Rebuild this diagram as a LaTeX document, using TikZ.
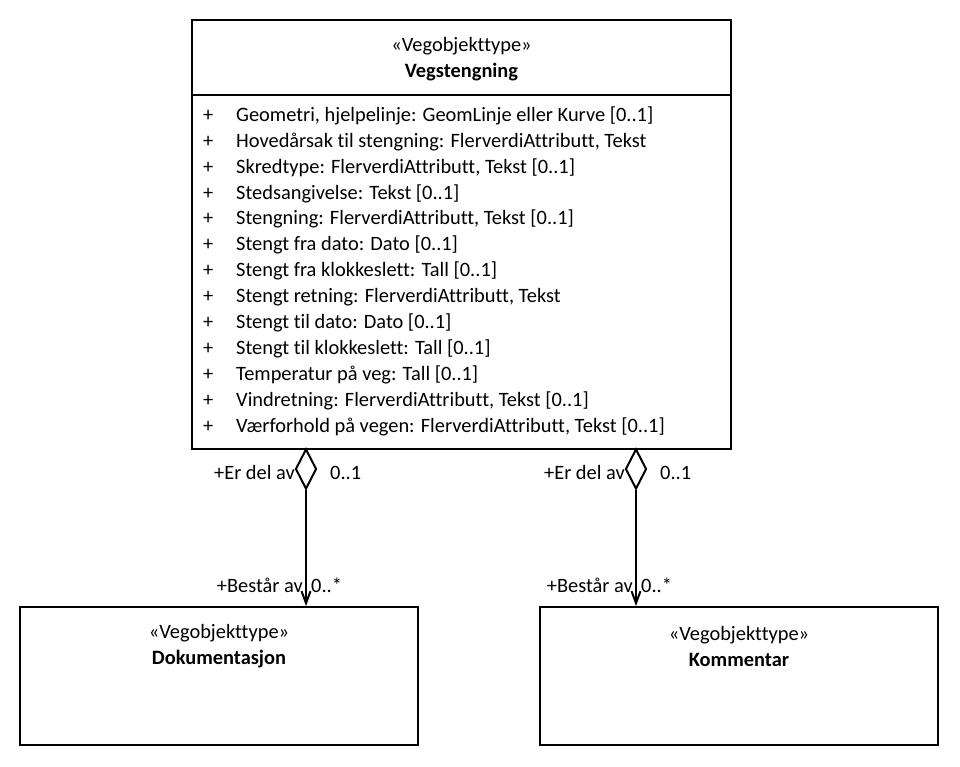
\documentclass[tikz,border=0pt]{standalone}
\usepackage{fontspec}
\setmainfont{Carlito}[Ligatures=NoCommon]
\usetikzlibrary{shapes.geometric,arrows.meta}
\begin{document}
\begin{tikzpicture}[x=1pt,y=-1pt,
font=\fontsize{20.4}{26}\selectfont,
% common options for class boxes:
klasse/.style = {draw, line width=2pt, align=center, anchor=north,
            inner sep=0},
% common options for attribute lines:
attr/.style = {anchor=west, inner sep=0},
% common options for role labels:
rolle/.style = {inner sep=0},
% common options for the aggregation diamonds:
rute/.style = {diamond, draw, line width=2pt, fill=white, anchor=north,
            minimum width=21pt, minimum height=40pt, inner sep=0}]
\useasboundingbox (0,0) rectangle (960,766);
\node[klasse,minimum width=539pt,minimum height=75pt] (V0) at (461.5,19) {};
\node[klasse,draw=none,anchor=center] (V2) at (461.5,59) {«Vegobjekttype»\\\textbf{Vegstengning}};
\node[klasse,minimum width=539pt,minimum height=354pt] (V1) at (461.5,94) {};
\node[attr] (A1) at (203,116) {\makebox[33pt][l]{+}Geometri, hjelpelinje: GeomLinje eller Kurve [0..1]};
\node[attr] (A2) at (203,142) {\makebox[33pt][l]{+}Hovedårsak til stengning: FlerverdiAttributt, Tekst};
\node[attr] (A3) at (203,168) {\makebox[33pt][l]{+}Skredtype: FlerverdiAttributt, Tekst [0..1]};
\node[attr] (A4) at (203,194) {\makebox[33pt][l]{+}Stedsangivelse: Tekst [0..1]};
\node[attr] (A5) at (203,219) {\makebox[33pt][l]{+}Stengning: FlerverdiAttributt, Tekst [0..1]};
\node[attr] (A6) at (203,245) {\makebox[33pt][l]{+}Stengt fra dato: Dato [0..1]};
\node[attr] (A7) at (203,271) {\makebox[33pt][l]{+}Stengt fra klokkeslett: Tall [0..1]};
\node[attr] (A8) at (203,297) {\makebox[33pt][l]{+}Stengt retning: FlerverdiAttributt, Tekst};
\node[attr] (A9) at (203,323) {\makebox[33pt][l]{+}Stengt til dato: Dato [0..1]};
\node[attr] (A10) at (203,349) {\makebox[33pt][l]{+}Stengt til klokkeslett: Tall [0..1]};
\node[attr] (A11) at (203,375) {\makebox[33pt][l]{+}Temperatur på veg: Tall [0..1]};
\node[attr] (A12) at (203,401) {\makebox[33pt][l]{+}Vindretning: FlerverdiAttributt, Tekst [0..1]};
\node[attr] (A13) at (203,427) {\makebox[33pt][l]{+}Værforhold på vegen: FlerverdiAttributt, Tekst [0..1]};
\node[klasse,minimum width=398pt,minimum height=138pt] (D0) at (219,606) {};
\node[klasse,draw=none,anchor=center] (D1) at (219,646) {«Vegobjekttype»\\\textbf{Dokumentasjon}};
\node[klasse,minimum width=398pt,minimum height=138pt] (K0) at (739,606) {};
\node[klasse,draw=none,anchor=center] (K1) at (739,646) {«Vegobjekttype»\\\textbf{Kommentar}};
\node[rute] (RD) at (306,448) {};
\node[rute] (RK) at (636,448) {};
\draw[line width=2pt,-{Straight Barb[length=12pt,width=9pt]}] (RD.south) to (D0.north -| RD.south);
\draw[line width=2pt,-{Straight Barb[length=12pt,width=9pt]}] (RK.south) to (K0.north -| RK.south);
\node[rolle,anchor=base east] (EL) at (295,479) {+Er del av};
\node[rolle,anchor=base west] (ML) at (330,479) {0..1};
\node[rolle,anchor=base east] (BL) at (303,592) {+Består av};
\node[rolle,anchor=base west] (NL) at (311,592) {0..*};
\node[rolle,anchor=base east] (ER) at (625,479) {+Er del av};
\node[rolle,anchor=base west] (MR) at (660,479) {0..1};
\node[rolle,anchor=base east] (BR) at (633,592) {+Består av};
\node[rolle,anchor=base west] (NR) at (641,592) {0..*};
\end{tikzpicture}
\end{document}
